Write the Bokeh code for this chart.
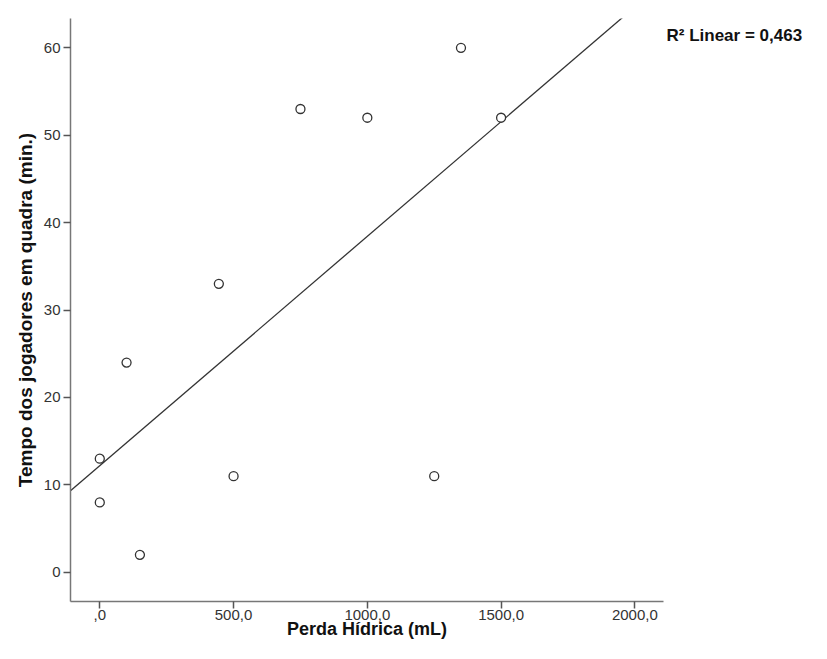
import numpy as np
from bokeh.plotting import figure
from bokeh.models import FixedTicker, Range1d, LinearAxis
from bokeh.embed import file_html
from bokeh.resources import INLINE

# Data
perda_hidrica = [0, 0, 150, 100, 445, 500, 750, 1000, 1250, 1350, 1500]
tempo_quadra = [13, 8, 2, 24, 33, 11, 53, 52, 11, 60, 52]
x_ticks = [0, 500, 1000, 1500, 2000]
x_tick_labels = [",0", "500,0", "1000,0", "1500,0", "2000,0"]
y_ticks = [0, 10, 20, 30, 40, 50, 60]
r2_text = "0,463"
r2_label_y = 61.35  # vertical position of the R² note, in y data units

x_limits = (-109.5, 2107.0)
y_limits = (-3.334, 63.35)

FONT = "Liberation Sans"

p = figure(width=811, height=643, output_backend="svg", toolbar_location=None,
           x_range=Range1d(*x_limits), y_range=Range1d(*y_limits),
           min_border_left=70, min_border_right=148, min_border_top=18,
           min_border_bottom=42)
p.outline_line_color = None
p.grid.visible = False
p.background_fill_color = "white"
p.border_fill_color = "white"

# least-squares regression line across the plot (clipped by the frame)
slope, intercept = np.polyfit(perda_hidrica, tempo_quadra, 1)
xl = np.array(x_limits)
p.line(xl, intercept + slope * xl, line_color="#333333", line_width=1.3)

p.scatter(perda_hidrica, tempo_quadra, marker="circle", size=9,
          fill_color="white", line_color="#333333", line_width=1.3)

for ax in (p.xaxis[0], p.yaxis[0]):
    ax.axis_line_color = "#777777"
    ax.axis_line_width = 1.5
    ax.major_tick_line_color = "#555555"
    ax.major_tick_line_width = 1.5
    ax.major_tick_out = 7
    ax.major_tick_in = 0
    ax.minor_tick_line_color = None
    ax.major_label_text_font = FONT
    ax.major_label_text_font_size = "15px"
    ax.major_label_text_color = "#333333"
    ax.axis_label_text_font = FONT
    ax.axis_label_text_font_style = "bold"
    ax.axis_label_text_color = "#111111"

p.xaxis.ticker = FixedTicker(ticks=x_ticks)
p.xaxis.major_label_overrides = {t: l for t, l in zip(x_ticks, x_tick_labels)}
p.xaxis.major_label_standoff = 1
p.xaxis.axis_label = "Perda Hídrica (mL)"
p.xaxis.axis_label_text_font_size = "18px"
p.xaxis.axis_label_standoff = -4

p.yaxis.ticker = FixedTicker(ticks=y_ticks)
p.yaxis.axis_label = "Tempo dos jogadores em quadra (min.)"
p.yaxis.axis_label_text_font_size = "19px"
p.yaxis.major_label_standoff = 3
p.yaxis.axis_label_standoff = 5

# R² note to the right of the plot, as the only label of an unlined right axis
r_axis = LinearAxis(ticker=FixedTicker(ticks=[r2_label_y]),
                    major_label_overrides={r2_label_y: "R\u00b2 Linear = " + r2_text},
                    axis_line_color=None, major_tick_line_color=None,
                    minor_tick_line_color=None, major_tick_out=0, major_tick_in=0,
                    major_label_standoff=3,
                    major_label_text_font=FONT, major_label_text_font_style="bold",
                    major_label_text_font_size="17px", major_label_text_color="#111111")
p.add_layout(r_axis, "right")

open("out.html", "w").write(file_html(p, INLINE))
